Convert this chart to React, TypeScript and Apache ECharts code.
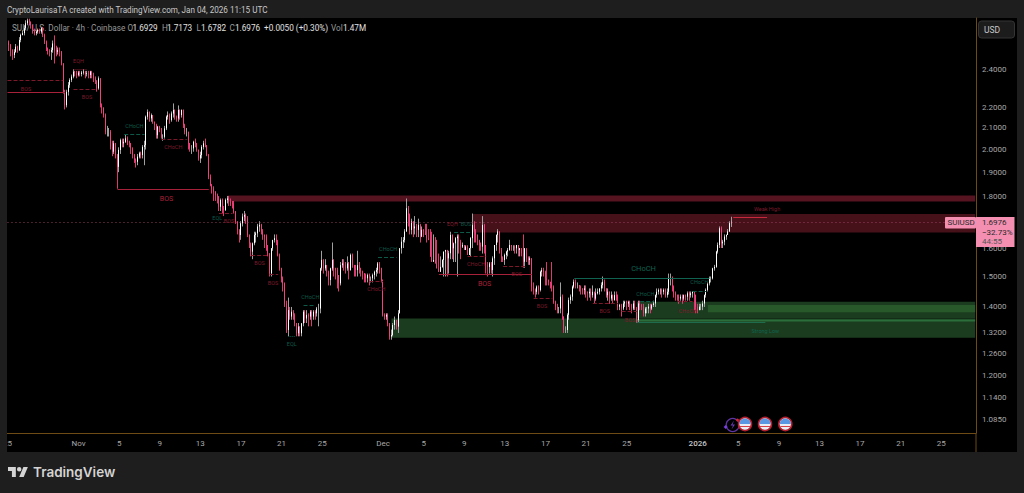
import React, { useEffect, useRef } from "react";
import * as echarts from "echarts";

const closes = [
2.534,2.505,2.477,2.495,2.524,2.505,2.563,2.592,2.603,2.632,
2.662,2.678,2.672,2.652,2.622,2.603,2.612,2.622,2.612,2.632,
2.592,2.553,2.515,2.501,2.495,2.505,2.543,2.505,2.495,2.505,
2.495,2.431,2.279,2.211,2.279,2.314,2.341,2.359,2.386,2.377,
2.368,2.381,2.373,2.381,2.386,2.373,2.377,2.368,2.386,2.368,
2.350,2.337,2.297,2.350,2.211,2.199,2.162,2.082,2.082,2.082,
2.012,1.990,2.028,1.975,1.923,1.998,2.043,2.028,2.035,2.051,
2.035,2.028,2.005,1.975,1.953,1.945,1.968,1.983,1.975,2.012,
2.020,2.154,2.177,2.146,2.162,2.130,2.114,2.066,2.106,2.098,
2.058,2.058,2.098,2.154,2.162,2.138,2.170,2.187,2.154,2.146,
2.187,2.162,2.187,2.114,2.082,2.082,2.028,2.005,2.005,2.035,
2.028,1.998,1.960,1.975,2.012,2.028,2.020,1.975,1.880,1.845,
1.831,1.817,1.804,1.797,1.757,1.784,1.751,1.744,1.784,1.790,
1.777,1.773,1.770,1.737,1.699,1.667,1.648,1.692,1.718,1.724,
1.711,1.648,1.617,1.587,1.617,1.648,1.654,1.680,1.686,1.661,
1.648,1.642,1.611,1.581,1.511,1.599,1.629,1.636,1.623,1.575,
1.528,1.494,1.477,1.411,1.329,1.390,1.370,1.385,1.375,1.349,
1.319,1.339,1.319,1.349,1.385,1.364,1.375,1.370,1.385,1.370,
1.385,1.380,1.395,1.395,1.528,1.557,1.528,1.539,1.516,1.488,
1.528,1.557,1.528,1.522,1.505,1.477,1.539,1.545,1.539,1.528,
1.545,1.522,1.575,1.539,1.528,1.522,1.539,1.528,1.516,1.511,
1.505,1.494,1.505,1.494,1.494,1.505,1.516,1.522,1.545,1.528,
1.488,1.375,1.370,1.375,1.349,1.309,1.314,1.344,1.359,1.339,
1.380,1.599,1.623,1.629,1.661,1.751,1.724,1.667,1.699,1.673,
1.680,1.667,1.686,1.642,1.667,1.661,1.648,1.636,1.629,1.569,
1.551,1.557,1.545,1.528,1.516,1.533,1.557,1.587,1.593,1.563,
1.581,1.648,1.599,1.617,1.636,1.642,1.623,1.605,1.611,1.593,
1.605,1.575,1.599,1.636,1.686,1.661,1.648,1.629,1.611,1.605,
1.686,1.611,1.539,1.533,1.545,1.522,1.563,1.611,1.648,1.661,
1.593,1.563,1.557,1.575,1.587,1.593,1.611,1.605,1.605,1.599,
1.611,1.593,1.599,1.581,1.551,1.599,1.563,1.557,1.563,1.466,
1.455,1.449,1.466,1.455,1.516,1.522,1.516,1.494,1.488,1.482,
1.477,1.466,1.416,1.401,1.395,1.395,1.433,1.370,1.329,1.329,
1.375,1.422,1.433,1.466,1.482,1.471,1.471,1.466,1.460,1.455,
1.460,1.449,1.444,1.449,1.438,1.449,1.427,1.444,1.449,1.460,
1.471,1.482,1.460,1.438,1.449,1.427,1.438,1.422,1.438,1.433,
1.401,1.406,1.395,1.411,1.416,1.411,1.416,1.406,1.395,1.411,
1.395,1.359,1.411,1.406,1.401,1.380,1.395,1.395,1.401,1.395,
1.406,1.411,1.438,1.449,1.455,1.455,1.449,1.455,1.438,1.449,
1.494,1.494,1.466,1.444,1.438,1.433,1.427,1.433,1.427,1.438,
1.433,1.444,1.438,1.444,1.449,1.438,1.401,1.390,1.401,1.401,
1.411,1.438,1.455,1.477,1.494,1.494,1.528,1.533,1.587,1.611,
1.673,1.617,1.623,1.642,1.648,1.661,1.6926,1.6976];

const highs = [
2.56,2.54,2.51,2.51,2.54,2.53,2.58,2.60,2.62,2.65,
2.68,2.69,2.69,2.67,2.65,2.63,2.62,2.63,2.63,2.64,
2.64,2.60,2.56,2.52,2.51,2.52,2.56,2.59,2.53,2.52,
2.52,2.50,2.43,2.29,2.29,2.33,2.35,2.37,2.40,2.39,
2.39,2.39,2.39,2.39,2.40,2.39,2.39,2.39,2.39,2.39,
2.38,2.36,2.34,2.36,2.35,2.22,2.20,2.17,2.11,2.10,
2.09,2.04,2.04,2.03,1.98,2.01,2.05,2.05,2.05,2.07,
2.06,2.04,2.03,2.01,1.98,1.96,1.98,1.99,1.99,2.02,
2.04,2.16,2.19,2.18,2.17,2.16,2.13,2.12,2.11,2.11,
2.10,2.07,2.11,2.16,2.18,2.17,2.18,2.22,2.19,2.16,
2.21,2.19,2.19,2.19,2.12,2.10,2.08,2.03,2.02,2.04,
2.05,2.03,2.00,1.99,2.02,2.04,2.05,2.02,1.98,1.89,
1.85,1.84,1.82,1.81,1.80,1.79,1.79,1.76,1.79,1.80,
1.80,1.79,1.78,1.78,1.74,1.70,1.67,1.70,1.73,1.74,
1.73,1.72,1.65,1.62,1.62,1.66,1.66,1.69,1.70,1.69,
1.67,1.65,1.65,1.61,1.58,1.60,1.63,1.65,1.65,1.63,
1.58,1.53,1.50,1.48,1.42,1.43,1.40,1.40,1.39,1.38,
1.35,1.35,1.34,1.35,1.39,1.39,1.39,1.38,1.39,1.39,
1.39,1.39,1.40,1.41,1.53,1.59,1.56,1.56,1.54,1.52,
1.53,1.62,1.56,1.53,1.53,1.50,1.55,1.56,1.56,1.55,
1.57,1.55,1.58,1.58,1.54,1.54,1.59,1.55,1.53,1.52,
1.51,1.51,1.51,1.51,1.50,1.51,1.52,1.53,1.55,1.55,
1.53,1.49,1.38,1.38,1.38,1.35,1.33,1.35,1.37,1.36,
1.39,1.60,1.64,1.64,1.67,1.79,1.76,1.73,1.71,1.70,
1.72,1.69,1.71,1.69,1.68,1.67,1.69,1.69,1.67,1.67,
1.66,1.65,1.64,1.63,1.58,1.57,1.56,1.55,1.53,1.54,
1.59,1.66,1.65,1.62,1.64,1.65,1.65,1.63,1.62,1.61,
1.61,1.61,1.60,1.64,1.73,1.70,1.67,1.65,1.63,1.62,
1.72,1.69,1.61,1.55,1.55,1.55,1.57,1.61,1.65,1.67,
1.66,1.60,1.57,1.58,1.59,1.60,1.63,1.61,1.61,1.61,
1.61,1.61,1.60,1.60,1.65,1.60,1.58,1.57,1.57,1.56,
1.48,1.46,1.47,1.47,1.52,1.53,1.53,1.52,1.55,1.49,
1.48,1.55,1.47,1.42,1.41,1.40,1.48,1.44,1.37,1.34,
1.38,1.43,1.44,1.47,1.49,1.49,1.48,1.47,1.47,1.46,
1.47,1.47,1.45,1.46,1.46,1.47,1.44,1.46,1.46,1.46,
1.48,1.50,1.49,1.46,1.46,1.45,1.45,1.44,1.45,1.45,
1.44,1.41,1.41,1.42,1.42,1.42,1.42,1.42,1.41,1.42,
1.42,1.40,1.42,1.42,1.41,1.41,1.40,1.40,1.41,1.41,
1.41,1.42,1.44,1.46,1.46,1.46,1.46,1.46,1.46,1.46,
1.51,1.51,1.50,1.47,1.45,1.44,1.44,1.44,1.44,1.44,
1.44,1.45,1.45,1.45,1.45,1.45,1.44,1.41,1.41,1.41,
1.42,1.44,1.46,1.48,1.50,1.50,1.53,1.54,1.59,1.62,
1.68,1.68,1.63,1.65,1.65,1.67,1.70,1.7173];

const lows = [
2.50,2.47,2.45,2.46,2.49,2.49,2.50,2.55,2.59,2.59,
2.62,2.65,2.65,2.63,2.60,2.59,2.59,2.60,2.60,2.60,
2.58,2.54,2.50,2.48,2.47,2.45,2.49,2.43,2.47,2.48,
2.47,2.42,2.27,2.19,2.20,2.26,2.30,2.33,2.35,2.36,
2.35,2.36,2.36,2.36,2.37,2.35,2.36,2.35,2.35,2.35,
2.33,2.32,2.28,2.29,2.20,2.17,2.15,2.07,2.06,2.06,
2.00,1.97,1.98,1.96,1.83,1.90,1.98,2.01,2.01,2.03,
2.02,2.01,1.98,1.96,1.94,1.92,1.93,1.96,1.96,1.96,
1.93,2.00,2.14,2.13,2.13,2.12,2.09,2.05,2.05,2.08,
2.05,2.04,2.05,2.09,2.14,2.12,2.13,2.15,2.14,2.13,
2.13,2.14,2.15,2.10,2.07,2.06,2.00,1.99,1.98,1.99,
2.01,1.99,1.95,1.94,1.96,2.00,2.01,1.97,1.87,1.84,
1.81,1.78,1.78,1.77,1.74,1.74,1.73,1.72,1.74,1.77,
1.76,1.76,1.75,1.73,1.69,1.65,1.62,1.63,1.68,1.70,
1.69,1.64,1.60,1.57,1.56,1.61,1.62,1.64,1.66,1.65,
1.63,1.60,1.59,1.57,1.50,1.50,1.59,1.62,1.61,1.57,
1.52,1.48,1.45,1.40,1.32,1.31,1.36,1.36,1.36,1.34,
1.31,1.31,1.31,1.31,1.34,1.35,1.35,1.34,1.36,1.34,
1.36,1.36,1.37,1.34,1.38,1.52,1.51,1.52,1.50,1.47,
1.47,1.52,1.50,1.49,1.46,1.45,1.47,1.53,1.52,1.51,
1.52,1.49,1.52,1.53,1.50,1.50,1.50,1.51,1.50,1.49,
1.48,1.48,1.48,1.47,1.48,1.48,1.49,1.50,1.51,1.51,
1.48,1.37,1.36,1.36,1.34,1.30,1.30,1.31,1.33,1.33,
1.32,1.38,1.58,1.60,1.62,1.66,1.68,1.65,1.65,1.64,
1.65,1.64,1.64,1.62,1.64,1.64,1.65,1.62,1.63,1.63,
1.62,1.60,1.60,1.55,1.53,1.54,1.53,1.50,1.50,1.50,
1.51,1.56,1.56,1.55,1.55,1.50,1.58,1.56,1.60,1.62,
1.60,1.58,1.58,1.57,1.60,1.62,1.62,1.61,1.59,1.59,
1.58,1.58,1.51,1.50,1.51,1.51,1.50,1.54,1.59,1.62,
1.58,1.55,1.55,1.54,1.56,1.57,1.59,1.59,1.59,1.58,
1.58,1.57,1.57,1.57,1.53,1.53,1.55,1.54,1.54,1.45,
1.44,1.43,1.44,1.44,1.45,1.50,1.50,1.47,1.47,1.47,
1.46,1.45,1.41,1.39,1.38,1.38,1.38,1.36,1.32,1.32,
1.32,1.36,1.41,1.42,1.46,1.46,1.46,1.45,1.44,1.44,
1.44,1.43,1.42,1.43,1.42,1.43,1.41,1.42,1.44,1.44,
1.45,1.46,1.45,1.43,1.42,1.41,1.42,1.41,1.42,1.42,
1.39,1.39,1.37,1.39,1.40,1.39,1.40,1.39,1.38,1.39,
1.39,1.35,1.35,1.39,1.39,1.37,1.37,1.38,1.38,1.38,
1.39,1.40,1.40,1.43,1.44,1.44,1.43,1.44,1.43,1.43,
1.44,1.47,1.45,1.43,1.42,1.42,1.41,1.42,1.41,1.42,
1.42,1.42,1.42,1.43,1.43,1.39,1.38,1.38,1.39,1.39,
1.39,1.40,1.43,1.45,1.47,1.48,1.49,1.52,1.53,1.58,
1.60,1.60,1.60,1.61,1.63,1.65,1.66,1.6782];

const firstOpen = 2.55;
const priceTicks = [2.4, 2.2, 2.1, 2.0, 1.9, 1.8, 1.7, 1.6, 1.5, 1.4, 1.32, 1.26, 1.2, 1.14, 1.085];
const timeTicks: [number, string][] = [
  [0,"25"],[42,"Nov"],[66,"5"],[90,"9"],[114,"13"],[138,"17"],[162,"21"],[186,"25"],
  [222,"Dec"],[246,"5"],[270,"9"],[294,"13"],[318,"17"],[342,"21"],[366,"25"],
  [408,"2026"],[432,"5"],[456,"9"],[480,"13"],[504,"17"],[528,"21"],[552,"25"],
];
const slotCount = 573;
const lastPrice = 1.6976;

const RED = "#a8213a", RED_D = "#7c1a2b", TEAL = "#0f6350", TEAL_D = "#0d5a48", HI = "#c8283c", TSTRIP = "#1f6b4d";
// [from slot, to slot, price, colour, line type]
const levelLines: [number, number, number, string, string][] = [
  [0,34,2.276,RED,"solid"],[0,33,2.339,RED_D,"dashed"],[39,52,2.295,RED_D,"dashed"],[39,47,2.398,RED_D,"dotted"],
  [69,81,2.068,TEAL_D,"dashed"],[91,106,2.049,RED_D,"dashed"],[65,119,1.827,RED,"solid"],[125,133,1.733,RED_D,"dashed"],
  [144,154,1.575,RED_D,"dashed"],[155,160,1.507,RED_D,"dashed"],[166,170,1.311,TEAL_D,"dotted"],[175,182,1.406,TEAL_D,"dashed"],
  [219,230,1.567,TEAL_D,"dashed"],[214,222,1.485,RED_D,"dashed"],[255,310,1.507,RED,"solid"],[264,274,1.657,TEAL_D,"dashed"],
  [272,283,1.571,RED_D,"dashed"],[293,307,1.536,RED_D,"dashed"],[311,322,1.428,RED_D,"dashed"],[346,361,1.411,RED_D,"dashed"],
  [363,372,1.387,RED_D,"dashed"],[335,415,1.494,TEAL,"solid"],[374,382,1.417,TEAL_D,"dashed"],[396,405,1.417,RED_D,"dashed"],
  [405,413,1.452,TEAL_D,"dashed"],[429,449,1.715,HI,"solid"],[372,448,1.352,TSTRIP,"solid"],
];
// [slot, price, text, colour, size]
const tags: [number, number, string, string, number][] = [
  [11,2.293,"BOS",RED_D,5.5],[42,2.445,"EQH",RED_D,5.5],[47,2.252,"BOS",RED_D,5.5],[75,2.109,"CHoCH",TEAL_D,5.5],[98,2.011,"CHoCH",RED_D,5.5],
  [94,1.788,"BOS",RED,7],[124,1.712,"EQL",TEAL_D,5.5],[131,1.702,"BOS",RED_D,5.5],[149,1.546,"BOS",RED_D,5.5],[157,1.478,"BOS",RED_D,5.5],
  [168,1.288,"EQL",TEAL_D,5.5],[179,1.433,"CHoCH",TEAL_D,5.5],[225,1.598,"CHoCH",TEAL_D,5.5],[218,1.458,"CHoCH",RED_D,5.5],
  [282,1.474,"BOS",RED,7],[263,1.690,"EQH",RED_D,5.5],[271,1.690,"BOS",TEAL_D,5.5],[277,1.543,"CHoCH",RED_D,5.5],[301,1.508,"BOS",RED_D,5.5],
  [316,1.403,"BOS",RED_D,5.5],[353,1.386,"BOS",RED_D,5.5],[368,1.360,"BOS",RED_D,5.5],[376,1.529,"CHoCH",TEAL,7.5],[377,1.442,"CHoCH",TEAL_D,5.5],
  [402,1.388,"CHoCH",RED_D,5.5],[409,1.482,"CHoCH",TEAL_D,5.5],[449,1.748,"Weak High",RED_D,5.5],[448,1.326,"Strong Low",TEAL,5.5],
];
// [from slot, to slot, top price, bottom price, fill]
const zones: [number, number, number, number, string][] = [
  [130,572,1.802,1.778,"#561320"],[275,572,1.728,1.657,"#47111a"],[227,572,1.364,1.306,"#1b3c1f"],
  [372,572,1.417,1.364,"#1b3c1f"],[414,572,1.406,1.383,"#27592b"],[372,572,1.361,1.355,"#2c6e3b"],
];
const legendRuns: [number, string, string][] = [
  [12,"SUI / U.S. Dollar · 4h · Coinbase","#9a9a9a"],[127.5,"O","#9a9a9a"],[132.5,"1.6929","#e0e0e0"],[162,"H","#9a9a9a"],[167,"1.7173","#e0e0e0"],
  [196.5,"L","#9a9a9a"],[201,"1.6782","#e0e0e0"],[229.5,"C","#9a9a9a"],[235,"1.6976","#e0e0e0"],[264,"+0.0050 (+0.30%)","#e0e0e0"],[331,"Vol","#9a9a9a"],[343,"1.47M","#e0e0e0"],
];
const flagCentres = [745, 765, 785.3];

echarts.graphic.registerShape("tvlogo", echarts.graphic.extendPath(
  "M14 22H7V11H0V4h14v18zM28 22h-8l7.5-18h8L28 22zM24 8a4 4 0 1 1-8 0 4 4 0 0 1 8 0z", {}) as any);

const FONT = "Roboto, sans-serif";

export default function App() {
  const ref = useRef<HTMLDivElement>(null);
  useEffect(() => {
    const chart = echarts.init(ref.current!, null, { renderer: "svg" });
    const wicks: any[] = [["-", "-", "-", "-"]];
    const bodies: any[] = [["-", "-", "-", "-"]];
    closes.forEach((c, i) => {
      const o = i === 0 ? firstOpen : closes[i - 1];
      wicks.push([o, c, Math.min(lows[i], o, c), Math.max(highs[i], o, c)]);
      bodies.push([o, c, Math.min(o, c), Math.max(o, c)]);
    });
    const cats = Array.from({ length: slotCount }, (_, i) => String(i));
    const tickMap = new Map(timeTicks);
    const flags = flagCentres.flatMap((x) => [
      { type: "circle", z: 90, shape: { cx: x, cy: 424, r: 6.5 }, style: { fill: "#e9eef4", stroke: "#b31f2e", lineWidth: 1.6 } },
      { type: "sector", z: 91, shape: { cx: x, cy: 424, r: 5.6, r0: 0, startAngle: Math.PI, endAngle: 2 * Math.PI }, style: { fill: "#5a97e2" } },
      { type: "line", z: 91, shape: { x1: x - 5, y1: 426.5, x2: x + 5, y2: 426.5 }, style: { stroke: "#d8404a", lineWidth: 1 } },
    ]);
    chart.setOption({
      animation: false,
      backgroundColor: "#1e1e1e",
      grid: { left: 5.305, right: 48, top: 18, bottom: 60, containLabel: false },
      xAxis: {
        type: "category", data: cats, boundaryGap: true,
        axisLine: { onZero: false, lineStyle: { color: "#6e4a14", width: 1 } },
        axisTick: { show: false }, splitLine: { show: false },
        axisLabel: {
          interval: (i: number) => tickMap.has(i), hideOverlap: false, margin: 6,
          fontFamily: FONT, fontSize: 8, color: "#a8a8a8", showMinLabel: true,
          formatter: (v: string) => {
            const t = tickMap.get(Number(v)) || "";
            return t === "2026" ? `{b|${t}}` : t;
          },
          rich: { b: { fontFamily: FONT, fontSize: 8, fontWeight: 500, color: "#c8c8c8" } },
        },
      },
      yAxis: {
        type: "log", position: "right", min: 1.0523, max: 2.694, logBase: 10,
        axisLine: { show: true, onZero: false, lineStyle: { color: "#6e4a14", width: 1 } },
        axisTick: { show: false }, splitLine: { show: false }, minorTick: { show: false },
        axisLabel: {
          customValues: priceTicks, margin: 6, fontFamily: FONT, fontSize: 8, color: "#a8a8a8",
          formatter: (v: number) => Number(v).toFixed(4),
        },
      },
      series: [
        {
          type: "candlestick", z: 3, data: wicks, barWidth: 0.5, clip: true,
          itemStyle: { color: "#a0a0a0", color0: "#d93a70", borderColor: "#a0a0a0", borderColor0: "#d93a70", borderWidth: 1 },
        },
        {
          type: "candlestick", z: 4, data: bodies, barWidth: 1.2, clip: true,
          itemStyle: { color: "#ffffff", color0: "#f2417f", borderColor: "#ffffff", borderColor0: "#f2417f", borderWidth: 1 },
        },
        {
          type: "scatter", z: 5, symbolSize: 1, silent: true, clip: false,
          itemStyle: { opacity: 0 },
          data: tags.map(([s, p, t, c, f]) => ({
            value: [s, p],
            label: { show: true, position: "inside", formatter: t, color: c, fontSize: f, fontFamily: FONT, opacity: 1 },
          })),
          markArea: {
            silent: true, z: 1,
            data: zones.map(([a, b, t, m, fill]) => [
              { coord: [a, t], itemStyle: { color: fill, opacity: 1, borderWidth: 0 } }, { coord: [b, m] },
            ]),
          },
          markLine: {
            silent: true, symbol: ["none", "none"], label: { show: false }, z: 5, precision: 6,
            data: [
              ...levelLines.map(([a, b, p, c, ty]) => [
                { coord: [a, p], lineStyle: { color: c, type: ty, width: 1, opacity: 1 } }, { coord: [b, p] },
              ]),
              [{ coord: [0, lastPrice], lineStyle: { color: "#a84468", type: [1, 3], width: 1, opacity: 0.9 } }, { coord: [572, lastPrice] }],
            ],
          },
        },
      ],
      graphic: [
        { type: "rect", z: -2, shape: { x: 7, y: 18, width: 1010, height: 434 }, style: { fill: "#000" } },
        { type: "line", z: -1, shape: { x1: 976, y1: 433, x2: 976, y2: 452 }, style: { stroke: "#6e4a14", lineWidth: 1 } },
        { type: "rect", z: 80, shape: { x: 0, y: 18, width: 7, height: 434 }, style: { fill: "#1e1e1e" } },
        { type: "text", z: 80, x: 7, y: 6, style: { text: "CryptoLaurisaTA created with TradingView.com, Jan 04, 2026 11:15 UTC", fill: "#c8c8c8", font: `8.15px ${FONT}` } },
        ...legendRuns.map(([x, t, c]) => ({ type: "text", z: -1, x, y: 24, style: { text: t, fill: c, font: `8.2px ${FONT}` } })),
        { type: "rect", z: 80, shape: { x: 978.5, y: 21, width: 36, height: 17, r: 3 }, style: { fill: "#1c1c1c", stroke: "#343434", lineWidth: 1 } },
        { type: "text", z: 81, x: 984, y: 25.5, style: { text: "USD", fill: "#c8c8c8", font: `8.5px ${FONT}` } },
        { type: "rect", z: 82, shape: { x: 945, y: 217, width: 31, height: 11.5, r: 1 }, style: { fill: "#f48fb1" } },
        { type: "text", z: 83, x: 947.5, y: 218.5, style: { text: "SUIUSD", fill: "#2a2a2a", font: `8px ${FONT}` } },
        { type: "rect", z: 82, shape: { x: 976, y: 217, width: 38.5, height: 30 }, style: { fill: "#f48fb1" } },
        { type: "text", z: 83, x: 982, y: 218.5, style: { text: "1.6976", fill: "#2a2a2a", font: `8px ${FONT}` } },
        { type: "text", z: 83, x: 982, y: 228, style: { text: "−32.73%", fill: "#2a2a2a", font: `8px ${FONT}` } },
        { type: "text", z: 83, x: 982, y: 237.5, style: { text: "44:55", fill: "#555", font: `8px ${FONT}` } },
        { type: "circle", z: 89, shape: { cx: 732.7, cy: 425, r: 6.5 }, style: { fill: "#000", stroke: "#5e35a0", lineWidth: 1.3 } },
        { type: "polygon", z: 89, shape: { points: [[734, 420.5], [730.5, 425.5], [733, 425.5], [731.5, 429.5], [735, 424.5], [732.5, 424.5]] }, style: { fill: "#6a3ab8" } },
        { type: "polygon", z: 89, shape: { points: [[725.7, 425], [727.7, 427], [725.7, 429], [723.7, 427]] }, style: { fill: "#7a3fe0" } },
        ...flags,
        { type: "circle", z: 92, shape: { cx: 737.5, cy: 420, r: 1.4 }, style: { fill: "#d02838" } },
        { type: "tvlogo", z: 80, x: 8, y: 464.8, scaleX: 0.56, scaleY: 0.56, style: { fill: "#d4d4d4" } },
        { type: "text", z: 80, x: 33, y: 465, style: { text: "TradingView", fill: "#d4d4d4", font: `600 13.5px Inter, ${FONT}` } },
      ],
    } as any);
    return () => chart.dispose();
  }, []);
  return <div ref={ref} style={{ position: "absolute", left: 0, top: 0, width: 1024, height: 493 }} />;
}
